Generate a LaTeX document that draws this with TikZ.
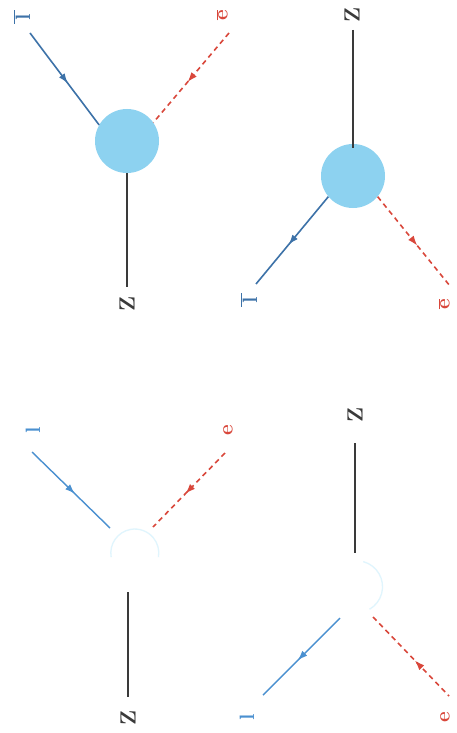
\documentclass[tikz,border=0pt]{standalone}
\usetikzlibrary{decorations.markings,arrows.meta}
\definecolor{lepc}{HTML}{3D72A8}
\definecolor{lepbc}{HTML}{4A90D0}
\definecolor{elec}{HTML}{D9473B}
\definecolor{blobc}{HTML}{8DD2F0}
\definecolor{zc}{HTML}{3A3A3A}
\begin{document}
\begin{tikzpicture}[x=1pt,y=-1pt,
  lbl/.style={rotate=90,inner sep=0pt,font=\fontsize{22}{26}\selectfont\bfseries},
  blob/.style={circle,fill=blobc,draw=none,minimum size=64pt,inner sep=0pt},
  ghost/.style={circle,draw=none,minimum size=48pt,inner sep=0pt},
  fwd/.style={postaction={decorate},decoration={markings,mark=at position 0.55 with {\arrow{Latex[length=10pt,width=7pt]}}}},
  bwd/.style={postaction={decorate},decoration={markings,mark=at position 0.55 with {\arrowreversed{Latex[length=10pt,width=7pt]}}}},
  lep/.style={draw=lepc,line width=1.6pt},
  lepb/.style={draw=lepbc,line width=1.4pt},
  ele/.style={draw=elec,dashed,dash pattern=on 5pt off 4pt,line width=1.6pt},
  zline/.style={draw=zc,line width=1.3pt}]
\useasboundingbox[fill=white] (0,0) rectangle (457,733);
% ---------- top-left ----------
\node[blob] (b1) at (127,141) {};
\coordinate (l1) at (30,33);
\coordinate (e1) at (229,33);
\coordinate (z1) at (127,287);
\node[lbl,text=lepc] (tl1) at (22,17) {$\overline{\,\mathbf{l}\,}$};
\node[lbl,text=elec] (te1) at (222,15) {$\overline{\mathbf{e}}$};
\node[lbl,text=zc] (tz1) at (127,304) {Z};
\draw[lep,fwd] (l1) -- (b1.150);
\draw[ele,fwd] (e1) -- (b1.35);
\draw[zline] (b1.south) -- (z1);
% ---------- top-right ----------
\node[blob] (b2) at (353,176) {};
\coordinate (z2) at (353,30);
\coordinate (l2) at (256,284);
\coordinate (e2) at (450,286);
\node[lbl,text=zc] (tz2) at (352,15) {Z};
\node[lbl,text=lepc] (tl2) at (249,300) {$\overline{\,\mathbf{l}\,}$};
\node[lbl,text=elec] (te2) at (444,304) {$\overline{\mathbf{e}}$};
\draw[zline] (z2) -- ([yshift=-4pt]b2.north);
\draw[lep,fwd] (b2.220) -- (l2);
\draw[ele,fwd] (b2.-40) -- (e2);
% ---------- bottom-left ----------
\node[ghost] (g3) at (135,553) {};
\draw[cyan!12,line width=1.3pt] (g3.190) arc[start angle=190,end angle=-10,radius=24pt];
\coordinate (l3) at (32,452);
\coordinate (e3) at (225,453);
\coordinate (z3) at (128,697);
\coordinate (v3z) at (128,592);
\node[lbl,text=lepbc] (tl3) at (33,430) {$\mathbf{l}$};
\node[lbl,text=elec] (te3) at (228,430) {$\mathbf{e}$};
\node[lbl,text=zc] (tz3) at (128,718) {Z};
\draw[lepb,fwd] (l3) -- (110,528);
\draw[ele,fwd] (e3) -- (153,527);
\draw[zline] (v3z) -- (z3);
% ---------- bottom-right ----------
\node[ghost] (g4) at (357,585) {};
\draw[cyan!12,line width=1.3pt] (g4.75) arc[start angle=75,end angle=-60,radius=26pt];
\coordinate (z4) at (355,443);
\coordinate (v4z) at (355,553);
\coordinate (l4) at (263,695);
\coordinate (e4) at (449,696);
\node[lbl,text=zc] (tz4) at (355,415) {Z};
\node[lbl,text=lepbc] (tl4) at (247,717) {$\mathbf{l}$};
\node[lbl,text=elec] (te4) at (445,717) {$\mathbf{e}$};
\draw[zline] (z4) -- (v4z);
\draw[lepb,fwd] (340,618) -- (l4);
\draw[ele,bwd] (373,617) -- (e4);
\end{tikzpicture}
\end{document}
